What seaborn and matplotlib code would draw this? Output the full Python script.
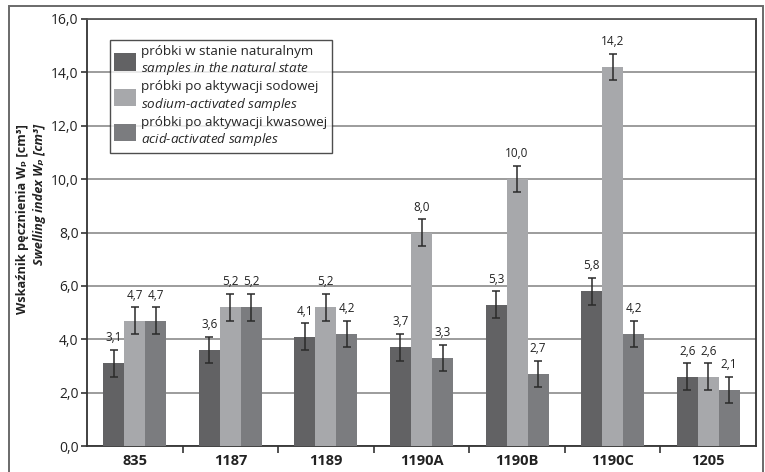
import matplotlib
matplotlib.use("Agg")
import matplotlib.pyplot as plt
import seaborn as sns
import pandas as pd
from matplotlib.patches import Rectangle
from matplotlib.ticker import FixedLocator, FuncFormatter

# Swelling index per sample, three treatment series
samples = ["835", "1187", "1189", "1190A", "1190B", "1190C", "1205"]
natural = [3.1, 3.6, 4.1, 3.7, 5.3, 5.8, 2.6]
sodium = [4.7, 5.2, 5.2, 8.0, 10.0, 14.2, 2.6]
acid = [4.7, 5.2, 4.2, 3.3, 2.7, 4.2, 2.1]
err_natural = [0.5, 0.5, 0.5, 0.5, 0.5, 0.5, 0.5]
err_sodium = [0.5, 0.5, 0.5, 0.5, 0.5, 0.5, 0.5]
err_acid = [0.5, 0.5, 0.5, 0.5, 0.5, 0.5, 0.5]

series_pl = ["próbki w stanie naturalnym",
             "próbki po aktywacji sodowej",
             "próbki po aktywacji kwasowej"]
series_en = ["samples in the natural state",
             "sodium-activated samples",
             "acid-activated samples"]
colors = ["#626264", "#a7a8ab", "#7b7c7f"]

sns.set_theme(style="white")
plt.rcParams["font.family"] = ["Open Sans", "DejaVu Sans"]
plt.rcParams["mathtext.fontset"] = "custom"
plt.rcParams["mathtext.rm"] = "Open Sans:italic"
plt.rcParams["mathtext.it"] = "Open Sans:italic"
plt.rcParams["mathtext.bf"] = "Open Sans:bold"

values = [natural, sodium, acid]
errors = [err_natural, err_sodium, err_acid]
rows = []
for pl, vals in zip(series_pl, values):
    for s, v in zip(samples, vals):
        rows.append({"sample": s, "series": pl, "value": v})
df = pd.DataFrame(rows)

fig = plt.figure(figsize=(7.65, 4.72), dpi=100)
ax = fig.add_axes([87 / 765, 1 - 446 / 472, (756 - 87) / 765, (446 - 19) / 472])

sns.barplot(data=df, x="sample", y="value", hue="series", order=samples,
            hue_order=series_pl, palette=colors, width=0.66, gap=0,
            errorbar=None, linewidth=0, saturation=1, ax=ax, zorder=3)

for cont, vals, errs in zip(ax.containers, values, errors):
    xs = [p.get_x() + p.get_width() / 2 for p in cont.patches]
    ax.errorbar(xs, vals, yerr=errs, fmt="none", ecolor="#2a2a2a",
                elinewidth=1.1, capsize=3, capthick=1.1, zorder=4)
    for x, v, e in zip(xs, vals, errs):
        ax.annotate(f"{v:.1f}".replace(".", ","), (x, v + e),
                    xytext=(0, 4), textcoords="offset points",
                    ha="center", va="bottom", fontsize=8.5, color="#222222")

ax.set_ylim(0, 16)
ax.set_xlim(-0.5, len(samples) - 0.5)
ax.set_yticks([0, 2, 4, 6, 8, 10, 12, 14, 16])
ax.yaxis.set_major_formatter(FuncFormatter(lambda v, _: f"{v:.1f}".replace(".", ",")))
ax.grid(axis="y", color="#9c9c9c", linewidth=1.4, zorder=0)
ax.set_axisbelow(True)

ax.tick_params(axis="y", which="major", direction="out", length=4, width=1.2,
               color="#333333", labelsize=10, labelcolor="#222222", left=True, pad=2)
ax.tick_params(axis="x", which="major", length=0, labelsize=10.5, pad=6)
ax.xaxis.set_minor_locator(FixedLocator([i + 0.5 for i in range(len(samples) - 1)]))
ax.tick_params(axis="x", which="minor", direction="out", length=5, width=1.2,
               color="#333333", bottom=True)
for lab in ax.get_xticklabels():
    lab.set_fontweight("bold")
    lab.set_color("#222222")

for side in ["left", "bottom", "top", "right"]:
    ax.spines[side].set_visible(True)
    ax.spines[side].set_color("#333333")
    ax.spines[side].set_linewidth(1.3)
ax.spines["top"].set_color("#555555")

ax.set_xlabel("")
ax.set_ylabel("")

fig.text(23 / 765, 1 - 124 / 472, "Wskaźnik pęcznienia Wₚ [cm³]", rotation=90,
         ha="center", va="top", fontsize=9.2, fontweight="bold", color="#222222")
fig.text(40 / 765, 1 - 124 / 472, "Swelling index Wₚ [cm³]", rotation=90,
         ha="center", va="top", fontsize=9.2, fontweight="bold",
         fontstyle="italic", color="#222222")

handles, _ = ax.get_legend_handles_labels()
labels = [f"{pl}\n$\\text{{{en}}}$" for pl, en in zip(series_pl, series_en)]
leg = ax.legend(handles, labels, loc="upper left", bbox_to_anchor=(0.034, 0.95),
                frameon=True, fancybox=False, shadow=False, fontsize=9.7,
                handlelength=1.6, handleheight=1.6, handletextpad=0.4,
                labelspacing=0.22, borderpad=0.35, borderaxespad=0)
leg.get_frame().set_edgecolor("#222222")
leg.get_frame().set_linewidth(1.0)
leg.set_zorder(10)

fig.patches.append(Rectangle((9 / 765, -0.05), (763 - 9) / 765, 1.05 - 6 / 472,
                             transform=fig.transFigure, fill=False,
                             edgecolor="#6a6a6a", linewidth=1.4))

fig.savefig("out.png", dpi=100)
